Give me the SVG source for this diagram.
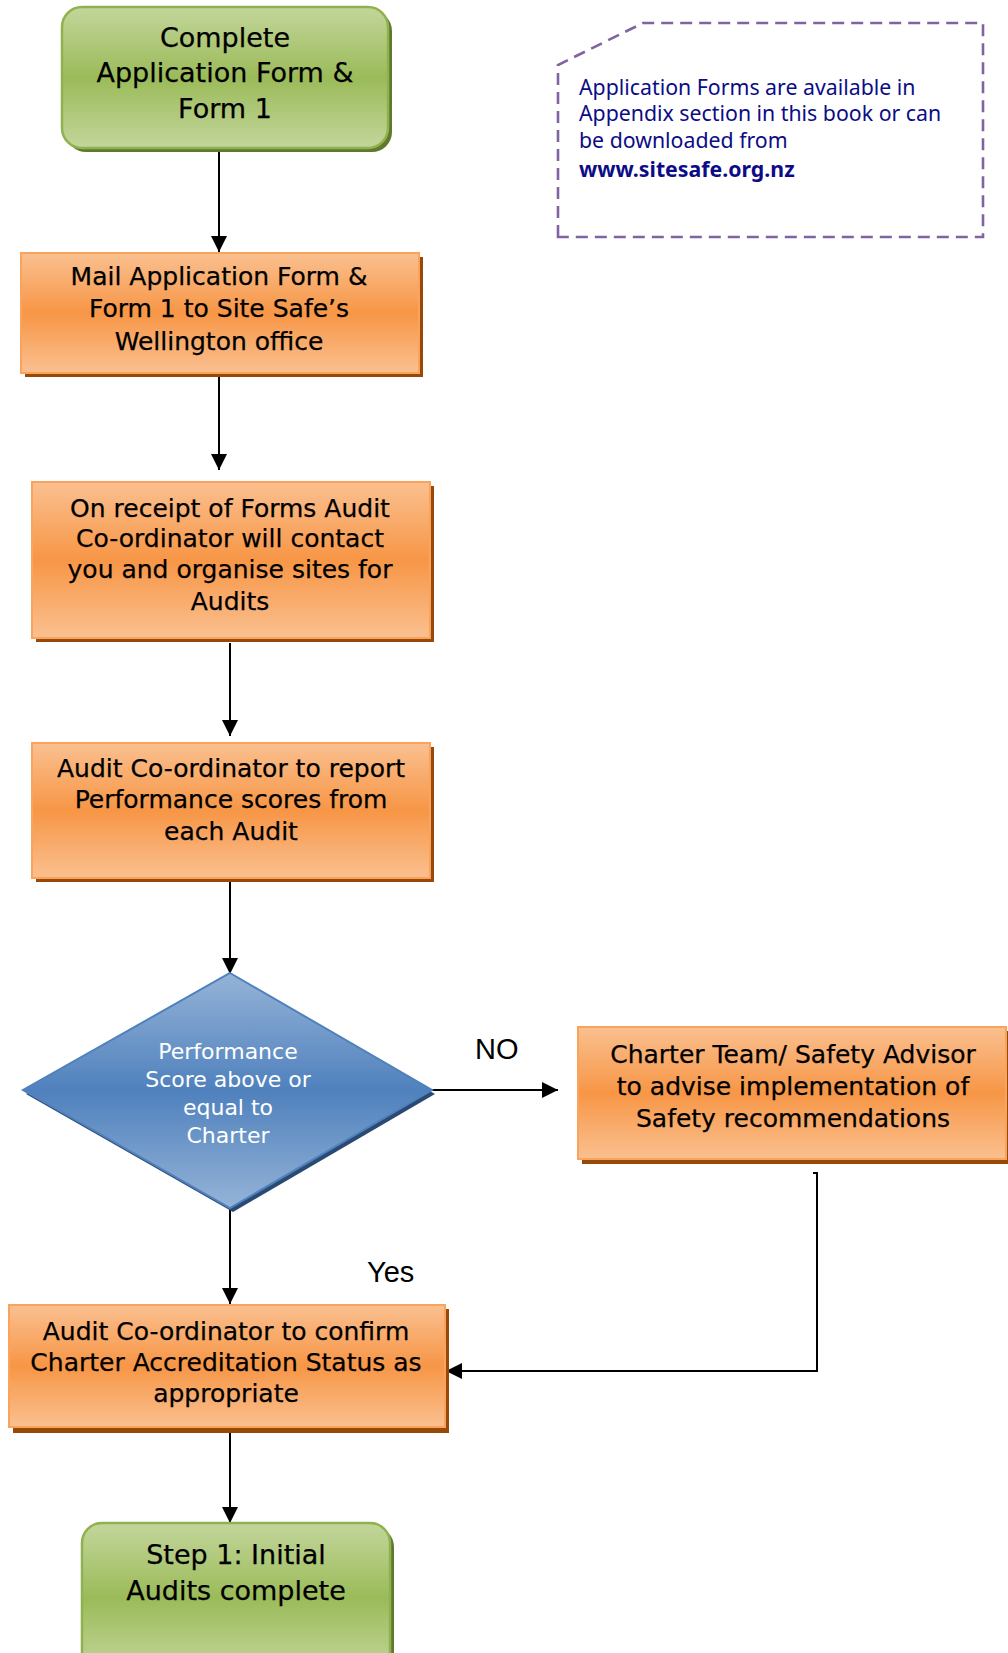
<svg xmlns="http://www.w3.org/2000/svg" width="1008" height="1653" viewBox="0 0 1008 1653">
<defs>
<linearGradient id="gOrange" x1="0" y1="0" x2="0" y2="1">
<stop offset="0" stop-color="#fac090"/>
<stop offset="0.5" stop-color="#f79646"/>
<stop offset="1" stop-color="#fac090"/>
</linearGradient>
<linearGradient id="gGreen" x1="0" y1="0" x2="0" y2="1">
<stop offset="0" stop-color="#c3d69b"/>
<stop offset="0.5" stop-color="#9bbb59"/>
<stop offset="1" stop-color="#c3d69b"/>
</linearGradient>
<linearGradient id="gBlue" x1="0" y1="0" x2="0" y2="1">
<stop offset="0" stop-color="#95b3d7"/>
<stop offset="0.5" stop-color="#4f81bd"/>
<stop offset="1" stop-color="#95b3d7"/>
</linearGradient>
<marker id="ah" markerWidth="16" markerHeight="16" refX="16" refY="8" orient="auto" markerUnits="userSpaceOnUse">
<path d="M0,0 L16,8 L0,16 z" fill="#000"/>
</marker>
</defs>
<style>
.ob{fill:url(#gOrange);stroke:#f9a35c;stroke-width:2}
.os{fill:#984807}
.gb{fill:url(#gGreen);stroke:#8eb24f;stroke-width:2.5}
.gs{fill:#5f7a2c}
.t{font-family:"DejaVu Sans",sans-serif;font-size:25px;fill:#000;text-anchor:middle;stroke:#000;stroke-width:0.25}
.tg{font-family:"DejaVu Sans",sans-serif;font-size:27px;fill:#000;text-anchor:middle;stroke:#000;stroke-width:0.25}
.tw{font-family:"DejaVu Sans",sans-serif;font-size:22px;fill:#fff;text-anchor:middle}
.note{font-family:"Noto Sans",sans-serif;font-size:21.3px;fill:#0c0c86}
.lbl{font-family:"Liberation Sans",Arial,sans-serif;font-size:29px;fill:#000}
.c{fill:none;stroke:#000;stroke-width:2}
.ca{fill:none;stroke:#000;stroke-width:2;marker-end:url(#ah)}
</style>
<rect width="1008" height="1653" fill="#fff"/>

<g id="note">
<path d="M558,237 L558,65 L643,23 L983,23 L983,237 Z" fill="none" stroke="#8064a2" stroke-width="2.6" stroke-dasharray="12 7"/>
<text class="note" x="579" y="95">Application Forms are available in</text>
<text class="note" x="579" y="121">Appendix section in this book or can</text>
<text class="note" x="579" y="148">be downloaded from</text>
<text class="note" x="579" y="177" font-weight="bold">www.sitesafe.org.nz</text>
</g>

<g id="connectors">
<line class="ca" x1="219" y1="151" x2="219" y2="252"/>
<line class="ca" x1="219" y1="376" x2="219" y2="470"/>
<line class="ca" x1="230" y1="643" x2="230" y2="736"/>
<line class="ca" x1="230" y1="882" x2="230" y2="974"/>
<line class="ca" x1="230" y1="1209" x2="230" y2="1304"/>
<line class="ca" x1="230" y1="1433" x2="230" y2="1523"/>
<line class="ca" x1="432" y1="1090" x2="558" y2="1090"/>
<polyline class="ca" points="813,1173 817,1173 817,1371 446,1371"/>
<text class="lbl" x="475" y="1059">NO</text>
<text class="lbl" x="367" y="1282">Yes</text>
</g>

<g id="start">
<rect class="gs" x="66" y="11" width="326" height="141" rx="20"/>
<rect class="gb" x="62" y="7" width="326" height="141" rx="20"/>
<text class="tg" x="225" y="47">Complete</text>
<text class="tg" x="225" y="82">Application Form &amp;</text>
<text class="tg" x="225" y="118">Form 1</text>
</g>

<g id="mail">
<rect class="os" x="25" y="257" width="398" height="120"/>
<rect class="ob" x="21" y="253" width="398" height="120"/>
<text class="t" x="219" y="285">Mail Application Form &amp;</text>
<text class="t" x="219" y="317">Form 1 to Site Safe’s</text>
<text class="t" x="219" y="350">Wellington office</text>
</g>

<g id="receipt">
<rect class="os" x="36" y="486" width="398" height="156"/>
<rect class="ob" x="32" y="482" width="398" height="156"/>
<text class="t" x="230" y="517">On receipt of Forms Audit</text>
<text class="t" x="230" y="547">Co-ordinator will contact</text>
<text class="t" x="230" y="578">you and organise sites for</text>
<text class="t" x="230" y="610">Audits</text>
</g>

<g id="report">
<rect class="os" x="36" y="747" width="398" height="135"/>
<rect class="ob" x="32" y="743" width="398" height="135"/>
<text class="t" x="231" y="777">Audit Co-ordinator to report</text>
<text class="t" x="231" y="808">Performance scores from</text>
<text class="t" x="231" y="840">each Audit</text>
</g>

<g id="decision">
<polygon points="233,977 435,1094 233,1212 26,1094" fill="#2b4a72"/>
<polygon points="230,973 432,1090 230,1208 23,1090" fill="url(#gBlue)" stroke="#4f81bd" stroke-width="2"/>
<text class="tw" x="228" y="1059">Performance</text>
<text class="tw" x="228" y="1087">Score above or</text>
<text class="tw" x="228" y="1115">equal to</text>
<text class="tw" x="228" y="1143">Charter</text>
</g>

<g id="advise">
<rect class="os" x="582" y="1031" width="428" height="133"/>
<rect class="ob" x="578" y="1027" width="428" height="132"/>
<text class="t" x="793" y="1063">Charter Team/ Safety Advisor</text>
<text class="t" x="793" y="1095">to advise implementation of</text>
<text class="t" x="793" y="1127">Safety recommendations</text>
</g>

<g id="confirm">
<rect class="os" x="13" y="1309" width="436" height="124"/>
<rect class="ob" x="9" y="1305" width="436" height="122"/>
<text class="t" x="226" y="1340">Audit Co-ordinator to confirm</text>
<text class="t" x="226" y="1371">Charter Accreditation Status as</text>
<text class="t" x="226" y="1402">appropriate</text>
</g>

<g id="end">
<rect class="gs" x="86" y="1527" width="308" height="150" rx="20"/>
<rect class="gb" x="82" y="1523" width="308" height="150" rx="20"/>
<text class="tg" x="236" y="1564">Step 1: Initial</text>
<text class="tg" x="236" y="1600">Audits complete</text>
</g>
</svg>
